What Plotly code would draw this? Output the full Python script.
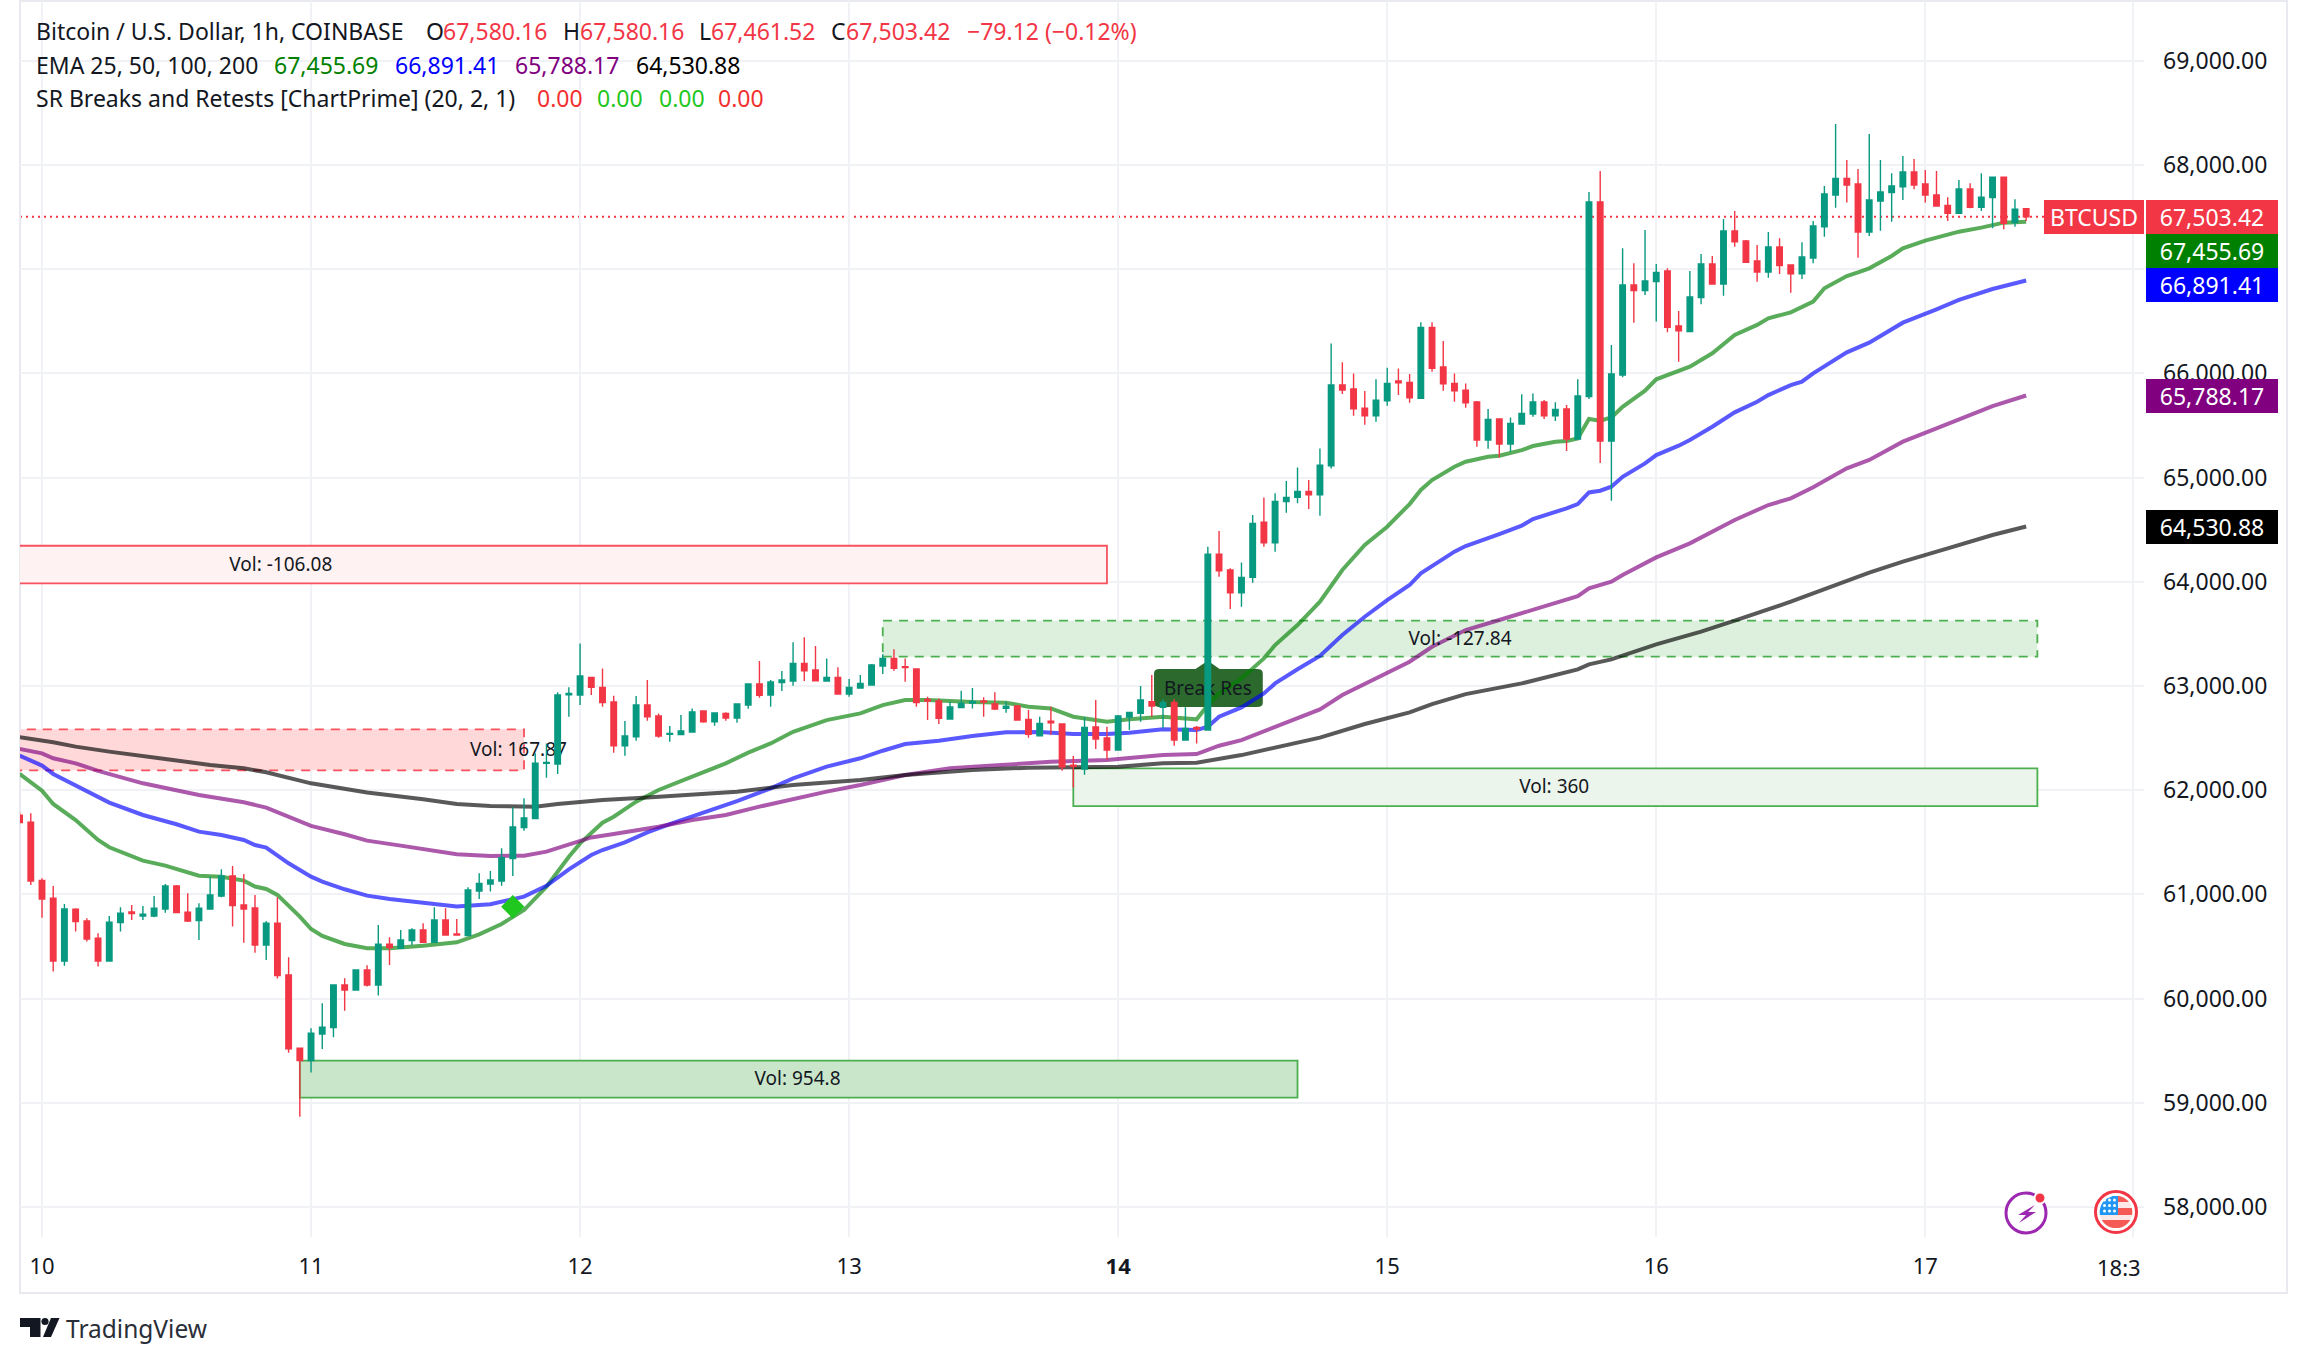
import math
import plotly.graph_objects as go

# ---------- chart frame (page pixels) ----------
W, H = 2308, 1364
L, R, T, B = 20, 2144, 1, 1237
FONT = "Noto Sans"
INK = "#131722"
RED = "#f23645"
TEAL = "#089981"

# ---------- candles: hourly bars, first bar is two hours before day 10 ----------
first_bar = -2
opens = [61760,61692,61135,60963,60361,60857,60745,60579,60361,60729,60831,60793,60793,60860,61081,60828,60748,60860,60985,61177,
 60899,60870,60515,60723,60227,59523,59405,59660,59721,60131,60083,60275,60131,60521,60483,60556,60659,60540,60755,60620,
 60604,61033,61100,61129,61343,61641,61727,62257,62251,62916,62913,63083,62987,62846,62427,62513,62817,62712,62536,62533,
 62558,62760,62657,62737,62693,62817,63019,62913,63032,63048,63217,63153,63048,63083,62923,62980,63009,63192,63265,63185,
 63163,62872,62856,62683,62792,62836,62856,62827,62785,62808,62680,62523,62661,62635,62241,62203,62606,62501,62385,62702,
 62737,62849,62795,62843,62481,62603,62577,64266,64113,63895,64042,64573,64375,64769,64810,64868,64836,65114,65888,65850,
 65667,65594,65738,65927,65914,65760,66442,66061,65904,65840,65725,65360,65562,65322,65514,65610,65725,65594,65658,65370,
 65777,67645,65351,65985,66849,66794,66881,66983,66455,66401,66727,67050,66858,67367,67271,67079,66973,67213,67040,66957,
 67108,67408,67712,67872,67818,67357,67655,67735,67792,67933,67818,67712,67613,67536,67770,67594,67687,67882,67447,67580.16]
highs = [61790,61778,61155,61081,60908,60867,60771,60627,60793,60876,60899,60889,60985,61100,61090,61010,60915,61170,61241,61273,
 61196,60995,60745,60972,60396,59523,59715,59955,60131,60195,60281,60320,60707,60588,60659,60675,60723,60876,60867,60764,
 61068,61202,61225,61442,61836,61922,62354,62449,62939,62987,63409,63083,63169,62907,62664,62904,63057,62737,62616,62721,
 62785,62760,62747,62747,62827,63025,63240,63057,63144,63419,63467,63384,63265,63179,63067,63105,63211,63304,63352,63265,
 63163,62897,62881,62849,62955,62980,62891,62939,62849,62817,62769,62705,62801,62635,62328,62699,62865,62609,62721,62747,
 63000,63105,62872,62872,62795,62616,64337,64487,64129,64186,64641,64810,64849,64967,65098,64977,65280,66288,66106,66000,
 65831,65943,66055,66048,65994,66490,66490,66311,66000,65904,65735,65658,65568,65578,65799,65808,65744,65722,65697,65943,
 67741,67942,66273,67200,67056,67376,67050,67008,66599,66983,67146,67127,67482,67559,67280,67232,67357,67296,67040,67258,
 67463,67799,68394,68048,67962,68298,68048,67920,68087,68058,67952,67943,67690,67856,67824,67920,67882,67882,67671,67580.16]
lows = [61690,61090,60777,60259,60316,60643,60547,60307,60361,60643,60755,60755,60780,60825,60825,60735,60563,60860,60972,60691,
 60537,60441,60371,60192,59481,58867,59290,59517,59629,59884,60083,60115,60029,60323,60483,60515,60540,60540,60611,60611,
 60604,60956,61027,61084,61177,61612,61727,62120,62155,62705,62817,62913,62801,62360,62331,62475,62667,62504,62465,62533,
 62552,62648,62619,62667,62648,62782,62888,62801,62952,63003,63048,63048,63048,62923,62897,62980,63009,63115,63147,63041,
 62801,62673,62635,62683,62792,62785,62705,62769,62744,62667,62504,62523,62529,62187,62027,62149,62395,62289,62385,62577,
 62657,62705,62593,62427,62481,62449,62577,64049,63739,63761,63991,64337,64289,64663,64753,64698,64634,65088,65802,65594,
 65508,65536,65690,65792,65719,65760,66016,65834,65728,65671,65296,65277,65194,65248,65514,65584,65562,65543,65255,65370,
 65754,65140,64779,65962,66487,66753,66497,66394,66113,66401,66663,66858,66746,67216,67063,66880,66919,66954,66775,66906,
 67056,67312,67591,67639,67111,67319,67370,67456,67664,67767,67639,67607,67463,67536,67584,67559,67392,67383,67408,67461.52]
closes = [61690,61129,60956,60361,60860,60739,60572,60361,60732,60819,60815,60809,60867,61081,60825,60745,60867,60995,61177,60892,
 60860,60515,60723,60220,59517,59405,59667,59725,60131,60083,60275,60131,60521,60489,60563,60659,60540,60755,60611,60611,
 61043,61106,61138,61353,61647,61734,62258,62267,62913,62929,63096,62987,62840,62427,62520,62817,62705,62520,62545,62568,
 62750,62657,62741,62693,62827,63019,62910,63038,63057,63217,63147,63051,63083,62923,62987,63025,63201,63265,63169,63176,
 62840,62856,62689,62798,62833,62852,62846,62779,62805,62673,62536,62641,62648,62225,62229,62603,62491,62385,62712,62747,
 62865,62808,62843,62481,62593,62587,64266,64106,63895,64042,64561,64375,64772,64810,64868,64836,65120,65888,65840,65661,
 65594,65744,65904,65911,65767,66442,66048,65901,65834,65719,65360,65559,65322,65520,65616,65725,65594,65655,65370,65783,
 67645,65351,65994,66849,66794,66887,66970,66442,66410,66733,67050,66858,67367,67264,67066,66973,67213,67034,66957,67117,
 67415,67722,67872,67808,67357,67664,67741,67799,67933,67808,67712,67607,67536,67770,67594,67690,67882,67440,67575,67503.42]

# ---------- EMAs: bar numbers and prices ----------
ema25_bar = [-2,0,1,3,5,6,9,11,14,16,18,19,20,21,23,24,25,27,29,31,34,36,37,39,41,43,45,47,48,50,51,53,55,58,61,63,65,67,70,73,75,77,79,83,86,88,90,92,95,97,100,103,104,105,107,109,110,112,114,116,118,120,122,123,124,126,127,129,130,132,133,135,136,137,138,139,140,141,143,144,146,147,149,151,153,154,156,157,158,159,161,162,163,165,166,168,170,171,173,175,177]
ema25_val = [62156,61996,61868,61714,61522,61452,61324,61276,61180,61170,61132,61075,61052,60995,60787,60668,60601,60524,60483,60483,60508,60534,60540,60617,60716,60850,61074,61362,61490,61688,61746,61890,62002,62130,62258,62360,62449,62561,62673,62737,62817,62865,62865,62846,62840,62801,62785,62705,62657,62680,62705,62680,62817,62929,63073,63265,63393,63585,63809,64113,64353,64529,64746,64881,64977,65104,65152,65200,65210,65264,65303,65344,65351,65376,65562,65546,65578,65680,65834,65943,66017,66064,66193,66369,66465,66529,66586,66634,66689,66817,66935,66970,67008,67127,67200,67274,67328,67360,67399,67447,67455.69]
ema50_bar = [-2,0,1,3,6,9,12,14,16,18,19,20,22,24,25,27,29,31,34,37,40,43,45,47,49,50,52,54,56,58,60,62,65,67,70,73,75,77,80,83,86,89,92,95,97,100,103,104,105,107,109,110,112,114,116,118,120,122,123,124,126,127,129,130,132,133,136,137,138,139,140,141,143,144,146,147,149,151,153,154,156,157,158,161,163,166,169,171,174,177]
ema50_val = [62332,62236,62156,62050,61881,61762,61673,61602,61570,61522,61474,61449,61298,61170,61122,61049,60988,60956,60915,60883,60905,60979,61083,61240,61378,61426,61499,61595,61675,61746,61826,61896,62018,62114,62226,62306,62379,62443,62475,62520,62555,62558,62539,62539,62552,62584,62577,62609,62705,62795,62929,63025,63160,63288,63489,63665,63825,63969,64081,64154,64289,64343,64426,64458,64538,64602,64705,64746,64858,64874,64913,65008,65136,65216,65306,65360,65488,65626,65728,65792,65888,65921,66001,66202,66295,66487,66615,66705,66810,66891.41]
ema100_bar = [-2,0,1,3,5,9,14,18,20,22,24,27,29,32,34,37,40,43,45,47,49,51,55,58,61,64,67,70,73,77,81,85,90,95,98,100,103,105,107,110,114,116,120,122,124,127,130,133,137,138,140,141,144,147,151,154,156,158,161,163,166,169,171,174,177]
ema100_val = [62396,62354,62306,62258,62185,62066,61954,61884,61833,61746,61657,61577,61516,61468,61433,61385,61369,61371,61410,61483,61547,61579,61650,61714,61762,61842,61915,61986,62050,62146,62210,62241,62273,62289,62315,62337,62347,62427,62481,62609,62776,62913,63121,63233,63377,63537,63633,63729,63863,63937,64001,64065,64234,64369,64593,64737,64801,64907,65089,65169,65345,65473,65559,65687,65788.17]
ema200_bar = [-2,0,1,3,6,11,15,18,20,24,27,29,34,37,40,44,46,50,54,58,62,67,73,77,83,88,93,96,100,103,107,111,114,118,122,124,127,132,137,138,140,144,148,151,156,163,166,170,174,177]
ema200_val = [62508,62482,62460,62418,62370,62300,62242,62210,62172,62066,62012,61977,61913,61868,61849,61842,61868,61906,61931,61960,61986,62050,62098,62146,62194,62216,62219,62226,62258,62264,62337,62433,62504,62635,62747,62827,62922,63025,63160,63208,63255,63399,63521,63627,63809,64088,64193,64321,64449,64530.88]
ema_colors = ["rgba(0,128,0,0.65)", "rgba(0,0,255,0.65)", "rgba(128,0,128,0.65)", "rgba(0,0,0,0.65)"]

# ---------- support / resistance zones ----------
zone_names = ["Vol: -106.08", "Vol: 167.87", "Vol: -127.84", "Vol: 360", "Vol: 954.8"]
zone_start = [-4, -4, 75, 92, 23]
zone_end = [95, 43, 178, 178, 112]
zone_top = [64346, 62584, 63627, 62210, 59404]
zone_bottom = [63985, 62191, 63281, 61848, 59049]
zone_fill = ["#fff2f2", "#ffd9d9", "#ddefdd", "#ebf5eb", "#c9e6ca"]
zone_line = ["#f7525f", "#f7525f", "#4caf50", "#4caf50", "#4caf50"]
zone_dash = ["solid", "dash", "dash", "solid", "solid"]
zone_label_bar = [21.3, 42.5, 126.5, 134.9, 67.4]
zone_label_price = [64150, 62375, 63440, 62015, 59212]

# ---------- axes ----------
day_bars = [0, 24, 48, 72, 96, 120, 144, 168, 186.5]
day_labels = ["10", "11", "12", "13", "<b>14</b>", "15", "16", "17", ""]
clipped_time_label = "18:3"
price_ticks = list(range(58000, 69001, 1000))
x_range = [(L - 42) / 11.21, (R - 42) / 11.21]
y_range = [57712, 69574]

last_close = 67503.42
signal_bar, signal_price = 42, 60882
break_bar, break_price = 104, 62955

bars = list(range(first_bar, first_bar + len(closes)))


def px(x):
    return (x - L) / (R - L)


def py(y):
    return 1 - (y - T) / (B - T)


fig = go.Figure()

# EMA lines sit on the base axes, below the candles
for xs, ys, col in zip([ema25_bar, ema50_bar, ema100_bar, ema200_bar],
                       [ema25_val, ema50_val, ema100_val, ema200_val], ema_colors):
    fig.add_trace(go.Scatter(x=xs, y=ys, mode="lines", line=dict(color=col, width=4), showlegend=False))

fig.add_trace(go.Scatter(x=zone_label_bar + [break_bar], y=zone_label_price + [break_price], mode="text",
                         text=zone_names + ["Break Res"], textposition="middle center",
                         textfont=dict(family=FONT, size=19, color=INK), showlegend=False))

# candles on an overlaying pair of axes, so they paint over the lines
fig.add_trace(go.Candlestick(x=bars, open=opens, high=highs, low=lows, close=closes, xaxis="x2", yaxis="y2",
                             increasing=dict(line=dict(color=TEAL, width=1.4), fillcolor=TEAL),
                             decreasing=dict(line=dict(color=RED, width=1.4), fillcolor=RED),
                             whiskerwidth=0, showlegend=False))
fig.add_trace(go.Scatter(x=[signal_bar], y=[signal_price], mode="markers", xaxis="x2", yaxis="y2",
                         marker=dict(symbol="diamond", size=18, color="#1fc71f"), showlegend=False))

shapes = []
for x0, x1, y1, y0, fc, lc, d in zip(zone_start, zone_end, zone_top, zone_bottom, zone_fill, zone_line, zone_dash):
    shapes.append(dict(type="rect", xref="x", yref="y", x0=x0, x1=x1, y0=y0, y1=y1, fillcolor=fc, layer="between",
                       line=dict(color=lc, width=1.8, dash="9px,7px" if d == "dash" else "solid")))

# Break Res label
shapes.append(dict(type="path", xref="x", yref="y", layer="between", fillcolor="#2b6a2c", line=dict(width=0),
                   path="M 99.7 63163 L 102.9 63163 L 104 63243 L 105.05 63163 L 108.4 63163 "
                        "Q 108.9 63163 108.9 63120 L 108.9 62840 Q 108.9 62798 108.4 62798 "
                        "L 99.7 62798 Q 99.2 62798 99.2 62840 L 99.2 63120 Q 99.2 63163 99.7 63163 Z"))
# last price line
shapes.append(dict(type="line", xref="paper", yref="y", x0=0, x1=1, y0=last_close, y1=last_close, layer="between",
                   line=dict(color=RED, width=2, dash="2px,4px")))
# outer frame
shapes.append(dict(type="rect", xref="paper", yref="paper", x0=px(20), x1=px(2287), y0=py(1293), y1=py(1),
                   line=dict(color="#e9eaef", width=2), layer="below"))


def paper_path(pts):
    return "M " + " L ".join(f"{px(a):.5f} {py(b):.5f}" for a, b in pts) + " Z"


def paper_shape(pts, color):
    return dict(type="path", xref="paper", yref="paper", path=paper_path(pts), fillcolor=color, line=dict(width=0))


def disc(cx, cy, r, fill, line=None, lw=0):
    return dict(type="circle", xref="paper", yref="paper", x0=px(cx - r), x1=px(cx + r), y0=py(cy + r), y1=py(cy - r),
                fillcolor=fill, line=dict(color=line or fill, width=lw))


def band(cx, cy, r, y0, y1, xmin, xmax):
    """Polygon: the part of a disc between two page rows and two page columns."""
    rows = [y0 + (y1 - y0) * k / 8 for k in range(9)]
    left, right = [], []
    for y in rows:
        half = math.sqrt(max(r * r - (y - cy) ** 2, 0))
        left.append((max(cx - half, xmin), y))
        right.append((min(cx + half, xmax), y))
    return right + left[::-1]


# TradingView logo
shapes.append(paper_shape([(20, 1318), (40.5, 1318), (40.5, 1337), (30, 1337), (30, 1327), (20, 1327)], INK))
shapes.append(paper_shape([(43, 1337), (51, 1318), (59.5, 1318), (51, 1337)], INK))
shapes.append(disc(45, 1321.5, 3.6, INK))

# lightning icon
shapes.append(disc(2026, 1213, 20, "white", "#9c27b0", 3))
shapes.append(paper_shape([(2035, 1205), (2018, 1215), (2026, 1215), (2019, 1223), (2036, 1212), (2028, 1212)], "#9c27b0"))
shapes.append(disc(2040, 1198, 5.5, RED, "white", 2))

# flag icon
fx, fy, fr = 2116, 1212, 16.3
shapes.append(disc(fx, fy, 20.5, "white", RED, 3))
shapes.append(paper_shape(band(fx, fy, fr, 1196, 1202, 2118, 2140), "#f55a55"))
shapes.append(paper_shape(band(fx, fy, fr, 1202, 1208, 2118, 2140), "#fde8e8"))
shapes.append(paper_shape(band(fx, fy, fr, 1208, 1215, 2118, 2140), "#f55a55"))
shapes.append(paper_shape(band(fx, fy, fr, 1215, 1220, 2090, 2140), "#fde8e8"))
shapes.append(paper_shape(band(fx, fy, fr, 1220, 1228, 2090, 2140), "#f55a55"))
shapes.append(paper_shape(band(fx, fy, fr, 1196, 1215, 2090, 2118), "#2196f3"))
for sy in (1200, 1205.5, 1211):
    for sx in (2104.5, 2109.5, 2114.5):
        shapes.append(disc(sx, sy, 1.5, "white"))

annotations = []


def txt(x, y, s, color=INK, size=23, anchor="left", **kw):
    annotations.append(dict(xref="paper", yref="paper", x=px(x - 3), y=py(y), text=s, showarrow=False, xanchor=anchor,
                            yanchor="middle", font=dict(family=FONT, size=size, color=color), **kw))


txt(37, 31, "Bitcoin / U.S. Dollar, 1h, COINBASE")
txt(427, 31, "O")
txt(444, 31, "67,580.16", RED)
txt(564, 31, "H")
txt(581, 31, "67,580.16", RED)
txt(700, 31, "L")
txt(712, 31, "67,461.52", RED)
txt(832, 31, "C")
txt(847, 31, "67,503.42", RED)
txt(968, 31, "−79.12 (−0.12%)", RED)
txt(37, 65, "EMA 25, 50, 100, 200")
txt(275, 65, "67,455.69", "#008000")
txt(396, 65, "66,891.41", "#0000ff")
txt(516, 65, "65,788.17", "#800080")
txt(637, 65, "64,530.88", "#000000")
txt(37, 98, "SR Breaks and Retests [ChartPrime] (20, 2, 1)")
txt(538, 98, "0.00", "#f23030")
txt(598, 98, "0.00", "#1fc71f")
txt(660, 98, "0.00", "#1fc71f")
txt(719, 98, "0.00", "#f23030")
txt(67, 1328, "TradingView", "#2a2e39", 24.5)
txt(2098, 1267, clipped_time_label, INK, 22)

tag_text = ["67,503.42", "67,455.69", "66,891.41", "65,788.17", "64,530.88"]
tag_fill = [RED, "#008000", "#0000ff", "#800080", "#000000"]
tag_y = [217, 251, 285, 396, 527]
for s, c, yy in zip(tag_text, tag_fill, tag_y):
    annotations.append(dict(xref="paper", yref="paper", x=px(2146), y=py(yy), text=s, showarrow=False, xanchor="left",
                            yanchor="middle", width=132, height=34, bgcolor=c, borderpad=0, borderwidth=0, align="center",
                            valign="middle", font=dict(family=FONT, size=23, color="white")))
annotations.append(dict(xref="paper", yref="paper", x=px(2144), y=py(217), text="BTCUSD", showarrow=False,
                        xanchor="right", yanchor="middle", width=100, height=34, bgcolor=RED, borderpad=0,
                        borderwidth=0, align="center", valign="middle", font=dict(family=FONT, size=23, color="white")))

axis_grid = "#f1f2f5"
fig.update_layout(
    width=W, height=H, margin=dict(l=L, r=W - R, t=T, b=H - B), autosize=False,
    paper_bgcolor="white", plot_bgcolor="white", showlegend=False, shapes=shapes, annotations=annotations,
    font=dict(family=FONT, color=INK, size=23),
    xaxis=dict(range=x_range, tickmode="array", tickvals=day_bars, ticktext=day_labels, showgrid=True,
               gridcolor=axis_grid, gridwidth=1.5, zeroline=False, showline=False, ticks="", ticklabelstandoff=14,
               tickfont=dict(family=FONT, size=22, color=INK), fixedrange=True),
    yaxis=dict(range=y_range, side="right", tickmode="array", tickvals=price_ticks, tickformat=",.2f", showgrid=True,
               gridcolor=axis_grid, gridwidth=1.5, zeroline=False, showline=False, ticks="", ticklabelstandoff=18,
               tickfont=dict(family=FONT, size=23, color=INK), fixedrange=True),
    xaxis2=dict(range=x_range, overlaying="x", visible=False, rangeslider=dict(visible=False), fixedrange=True),
    yaxis2=dict(range=y_range, overlaying="y", side="right", visible=False, fixedrange=True),
)

fig.write_html("out.html", config=dict(displayModeBar=False), post_script="document.body.style.margin='0';")
